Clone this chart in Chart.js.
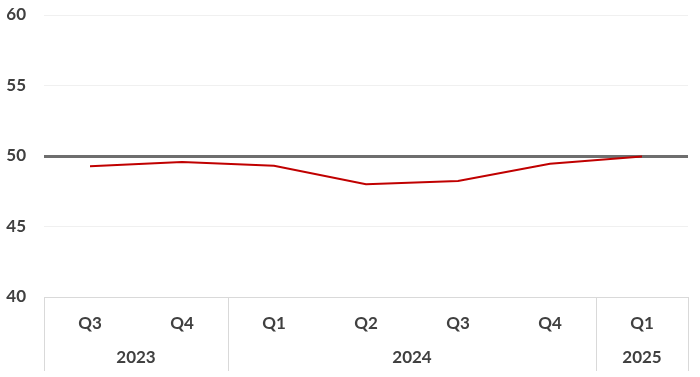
<!DOCTYPE html>
<html>
<head>
<meta charset="utf-8">
<script src="https://cdn.jsdelivr.net/npm/chart.js@4"></script>
<style>
  html, body { margin: 0; padding: 0; background: #fff; }
  #wrap { width: 700px; height: 377px; }
</style>
</head>
<body>
<div id="wrap"><canvas id="c" width="700" height="377"></canvas></div>
<script>
// quarters on the x axis, grouped by year underneath
const quarters = ["Q3", "Q4", "Q1", "Q2", "Q3", "Q4", "Q1"];
const years = ["2023", "2023", "2024", "2024", "2024", "2024", "2025"];
const index = [49.27, 49.57, 49.3, 48.0, 48.23, 49.45, 49.97];
const yTicks = [40, 45, 50, 55, 60];

const FONT = "Lato, 'Open Sans', sans-serif";
const TXT = "#404040";

// year groups + separators under the quarter labels
const yearGroups = {
  id: "yearGroups",
  afterDraw(chart) {
    const x = chart.scales.x, ca = chart.chartArea, ctx = chart.ctx;
    const half = (x.getPixelForValue(1) - x.getPixelForValue(0)) / 2;
    const bottom = chart.height - 6;
    ctx.save();
    ctx.strokeStyle = "#d9d9d9";
    ctx.lineWidth = 1;
    ctx.beginPath();
    ctx.moveTo(ca.left, ca.bottom + 0.5); ctx.lineTo(ca.right, ca.bottom + 0.5);
    ctx.stroke();
    let start = 0;
    ctx.font = "bold 17px " + FONT;
    ctx.fillStyle = TXT;
    ctx.textAlign = "center";
    ctx.textBaseline = "middle";
    const sep = px => {
      ctx.beginPath();
      ctx.moveTo(Math.round(px) + 0.5, ca.bottom);
      ctx.lineTo(Math.round(px) + 0.5, bottom);
      ctx.stroke();
    };
    sep(x.getPixelForValue(0) - half);
    for (let i = 1; i <= years.length; i++) {
      if (i === years.length || years[i] !== years[start]) {
        const l = x.getPixelForValue(start) - half, r = x.getPixelForValue(i - 1) + half;
        ctx.fillText(years[start], (l + r) / 2, 358);
        sep(r);
        start = i;
      }
    }
    ctx.restore();
  },
};

new Chart(document.getElementById("c"), {
  type: "line",
  data: {
    labels: quarters,
    datasets: [{
      data: index, borderColor: "#c00000", borderWidth: 2,
      pointRadius: 0, tension: 0, fill: false,
    }],
  },
  options: {
    responsive: false, animation: false,
    layout: { padding: { top: 15, right: 12, left: 0, bottom: 0 } },
    plugins: { legend: { display: false }, tooltip: { enabled: false } },
    scales: {
      x: {
        offset: true,
        grid: { display: false, drawTicks: false, offset: true },
        border: { display: false },
        ticks: { padding: 16, color: TXT, font: { family: FONT, size: 17, weight: "bold" } },
        afterFit(s) { s.height = 80; s.paddingLeft = 0; s.paddingRight = 0; },
      },
      y: {
        min: 40, max: 60,
        afterBuildTicks(s) { s.ticks = yTicks.map(v => ({ value: v })); },
        border: { display: false },
        grid: {
          drawTicks: false,
          color: c => c.tick && c.tick.value === 50 ? "#6e6e6e" : (c.tick && c.tick.value === 40 ? "rgba(0,0,0,0)" : "#f0f0f0"),
          lineWidth: c => c.tick && c.tick.value === 50 ? 3 : 1,
        },
        ticks: { padding: 18, color: TXT, font: { family: FONT, size: 17, weight: "bold" } },
        afterFit(s) { s.width = 44; s.paddingTop = 0; s.paddingBottom = 0; },
      },
    },
  },
  plugins: [yearGroups],
});
</script>
</body>
</html>
